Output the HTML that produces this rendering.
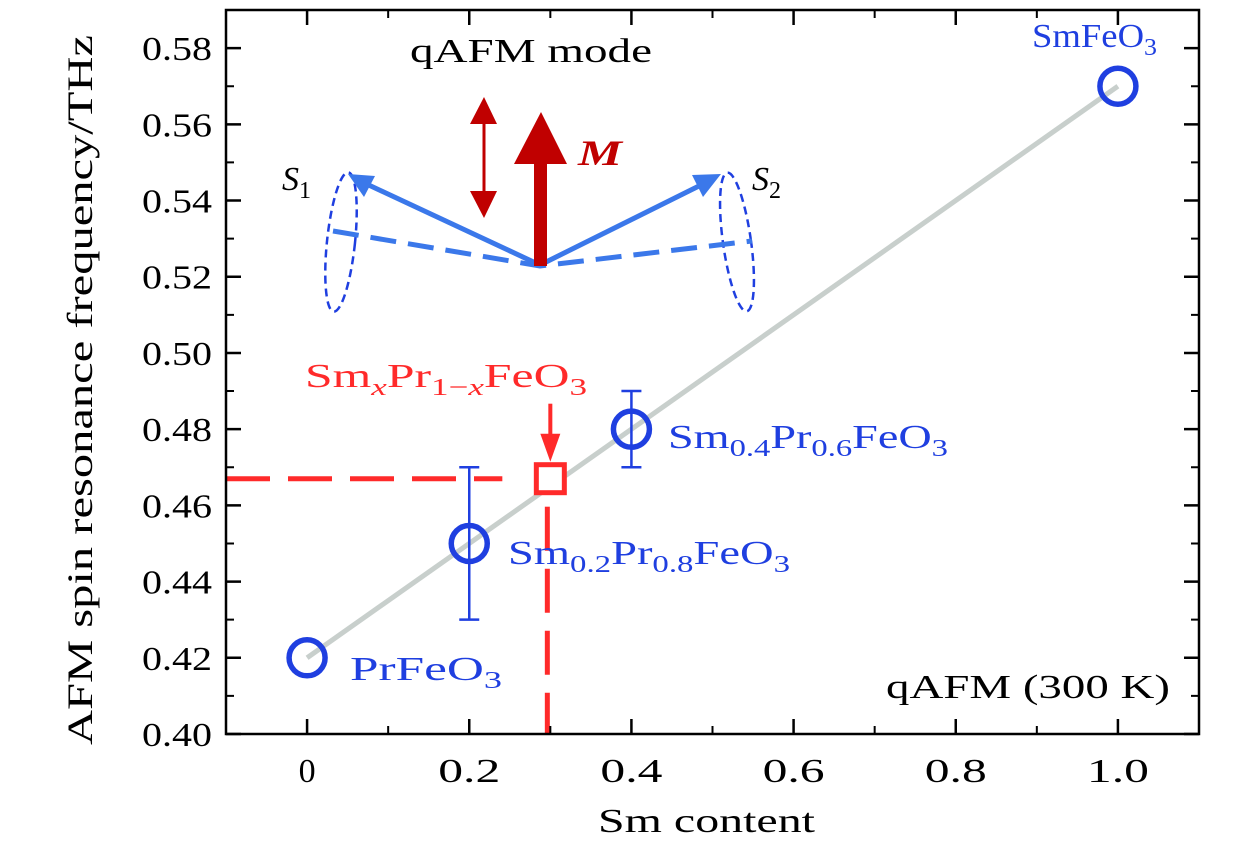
<!DOCTYPE html>
<html><head><meta charset="utf-8">
<style>
html,body{margin:0;padding:0;background:#fff;}
svg{display:block;font-family:"Liberation Serif","DejaVu Serif",serif;}
</style></head>
<body>
<svg id="chart" width="1260" height="850" viewBox="0 0 1260 850">
<g id="plot"></g>
</svg>
<script>
const xs = [0, 0.2, 0.4, 1.0];
const ys = [0.42, 0.45, 0.48, 0.57];
const errs = [0, 0.02, 0.01, 0];
const fitX = [0, 1.0];
const fitY = [0.42, 0.57];
const estX = 0.3;
const estY = 0.467;
const xTicks = [0, 0.2, 0.4, 0.6, 0.8, 1.0];
const xTickLabels = ["0", "0.2", "0.4", "0.6", "0.8", "1.0"];
const yTicks = [0.40, 0.42, 0.44, 0.46, 0.48, 0.50, 0.52, 0.54, 0.56, 0.58];

const X0 = 226, X1 = 1199, Y0 = 734, Y1 = 10;
const xmin = -0.1, xmax = 1.1, ymin = 0.40, ymax = 0.59;
const sx = v => X0 + (v - xmin) / (xmax - xmin) * (X1 - X0);
const sy = v => Y0 - (v - ymin) / (ymax - ymin) * (Y0 - Y1);
const NS = "http://www.w3.org/2000/svg";
const g = document.getElementById('plot');
function mk(tag, attrs, parent) {
  const e = document.createElementNS(NS, tag);
  for (const k in attrs) e.setAttribute(k, attrs[k]);
  (parent || g).appendChild(e);
  return e;
}
const blue = "#1f3fe0", red = "#ff2a2a";

let e = mk('line', {x1: sx(fitX[0]), y1: sy(fitY[0]), x2: sx(fitX[1]), y2: sy(fitY[1]), stroke: "#c8cfcc", "stroke-width": 5});



e = mk('line', {x1: X0, y1: sy(estY), x2: sx(estX) - 48, y2: sy(estY), stroke: red, "stroke-width": 5, "stroke-dasharray": "44,18"});


e = mk('line', {x1: sx(estX) - 3, y1: sy(estY) + 28, x2: sx(estX) - 3, y2: Y0, stroke: red, "stroke-width": 5, "stroke-dasharray": "44,18"});



for (let i = 0; i < xs.length; i++) {
  const cx = sx(xs[i]), cy = sy(ys[i]);
  if (errs[i] > 0) {
    const t = sy(ys[i] + errs[i]), b = sy(ys[i] - errs[i]);
    e = mk('path', {d: `M${cx},${t}V${b}M${cx-10},${t}H${cx+10}M${cx-10},${b}H${cx+10}`, stroke: blue, "stroke-width": 2.5, fill: "none"});
    
    
  }
  e = mk('circle', {cx: cx, cy: cy, r: 18, fill: "none", stroke: blue, "stroke-width": 5.5});
  
  
}
e = mk('rect', {x: sx(estX) - 14, y: sy(estY) - 14, width: 28, height: 28, fill: "#fff", stroke: red, "stroke-width": 5});


e = mk('path', {d: `M${sx(estX)},${sy(estY)-75}V${sy(estY)-40}`, stroke: red, "stroke-width": 4});


e = mk('polygon', {points: `${sx(estX)-10},${sy(estY)-45} ${sx(estX)+10},${sy(estY)-45} ${sx(estX)},${sy(estY)-17}`, fill: red});



e = mk('rect', {x: X0, y: Y1, width: X1 - X0, height: Y0 - Y1, fill: "none", stroke: "#000", "stroke-width": 2.5});



for (let i = 0; i < xTicks.length; i++) {
  const x = sx(xTicks[i]);
  e = mk('path', {d: `M${x},${Y0}v-15M${x},${Y1}v15`, stroke: "#000", "stroke-width": 2.5});
  
  
  const lab = xTickLabels[i];
  const attrs = {x: x, y: 782, "text-anchor": "middle", "font-size": 34};
  if (lab.length > 1) { attrs.textLength = 62; attrs.lengthAdjust = "spacingAndGlyphs"; }
  e = mk('text', attrs);
  e.textContent = lab;
  
  
}
for (let v = -0.1; v <= 1.11; v += 0.2) {
  const x = sx(v);
  e = mk('path', {d: `M${x},${Y0}v-8M${x},${Y1}v8`, stroke: "#000", "stroke-width": 2});
  
  
}
for (let i = 0; i < yTicks.length; i++) {
  const y = sy(yTicks[i]);
  e = mk('path', {d: `M${X0},${y}h15M${X1},${y}h-15`, stroke: "#000", "stroke-width": 2.5});
  
  
  e = mk('text', {x: 212, y: y + 12, "text-anchor": "end", "font-size": 34, textLength: 70, lengthAdjust: "spacingAndGlyphs"});
  e.textContent = yTicks[i].toFixed(2);
  
  
  const ym = sy(yTicks[i] + 0.01);
  if (ym > Y1) {
    e = mk('path', {d: `M${X0},${ym}h8M${X1},${ym}h-8`, stroke: "#000", "stroke-width": 2});
    
    
  }
}
</script>
<svg width="1260" height="850" style="position:absolute;left:0;top:0">
<g font-family="Liberation Serif, DejaVu Serif, serif">
<text x="598" y="832" font-size="34" textLength="217" lengthAdjust="spacingAndGlyphs">Sm content</text>
<text transform="translate(92,745) rotate(-90)" font-size="36" textLength="710" lengthAdjust="spacingAndGlyphs">AFM spin resonance frequency/THz</text>
<text x="1032" y="47" font-size="34" fill="#1f3fe0" textLength="125" lengthAdjust="spacingAndGlyphs">SmFeO<tspan font-size="24" dy="8">3</tspan></text>
<text x="350" y="680" font-size="34" fill="#1f3fe0" textLength="152" lengthAdjust="spacingAndGlyphs">PrFeO<tspan font-size="24" dy="8">3</tspan></text>
<text x="508" y="564" font-size="34" fill="#1f3fe0" textLength="282" lengthAdjust="spacingAndGlyphs">Sm<tspan font-size="24" dy="8">0.2</tspan><tspan dy="-8">Pr</tspan><tspan font-size="24" dy="8">0.8</tspan><tspan dy="-8">FeO</tspan><tspan font-size="24" dy="8">3</tspan></text>
<text x="668" y="448" font-size="34" fill="#1f3fe0" textLength="280" lengthAdjust="spacingAndGlyphs">Sm<tspan font-size="24" dy="8">0.4</tspan><tspan dy="-8">Pr</tspan><tspan font-size="24" dy="8">0.6</tspan><tspan dy="-8">FeO</tspan><tspan font-size="24" dy="8">3</tspan></text>
<text x="305" y="387" font-size="34" fill="#ff2a2a" textLength="282" lengthAdjust="spacingAndGlyphs">Sm<tspan font-size="24" dy="8" font-style="italic">x</tspan><tspan dy="-8">Pr</tspan><tspan font-size="24" dy="8">1−<tspan font-style="italic">x</tspan></tspan><tspan dy="-8">FeO</tspan><tspan font-size="24" dy="8">3</tspan></text>
<text x="886" y="698" font-size="34" textLength="284" lengthAdjust="spacingAndGlyphs">qAFM (300 K)</text>
<text x="410" y="62" font-size="34" textLength="242" lengthAdjust="spacingAndGlyphs">qAFM mode</text>
<text x="282" y="190" font-size="34" font-style="italic">S<tspan font-size="24" dy="8" font-style="normal">1</tspan></text>
<text x="752" y="190" font-size="34" font-style="italic">S<tspan font-size="24" dy="8" font-style="normal">2</tspan></text>
<text x="578" y="165" font-size="36" font-style="italic" font-weight="bold" fill="#c00000" textLength="44" lengthAdjust="spacingAndGlyphs">M</text>
</g>
<g>
<ellipse cx="341" cy="242" rx="14" ry="70" fill="none" stroke="#1f3fe0" stroke-width="2.5" stroke-dasharray="8,5" transform="rotate(6 341 242)"/>
<ellipse cx="737" cy="242" rx="14" ry="70" fill="none" stroke="#1f3fe0" stroke-width="2.5" stroke-dasharray="8,5" transform="rotate(-8 737 242)"/>
<path d="M333,231 L540,266 L752,241" fill="none" stroke="#3b78ea" stroke-width="5" stroke-dasharray="26,12"/>
<line x1="540" y1="265" x2="358" y2="180" stroke="#3b78ea" stroke-width="5"/>
<polygon points="348,174 375,176 364,197" fill="#3b78ea"/>
<line x1="540" y1="265" x2="705" y2="183" stroke="#3b78ea" stroke-width="5"/>
<polygon points="721,174 703,197 692,175" fill="#3b78ea"/>
<rect x="534" y="160" width="13" height="106" fill="#c00000"/>
<polygon points="514,164 567,164 541,112" fill="#c00000"/>
<line x1="484" y1="120" x2="484" y2="195" stroke="#c00000" stroke-width="3"/>
<polygon points="470,124 497,124 484,97" fill="#c00000"/>
<polygon points="470,191 497,191 484,218" fill="#c00000"/>
</g>
</svg>
</body></html>
